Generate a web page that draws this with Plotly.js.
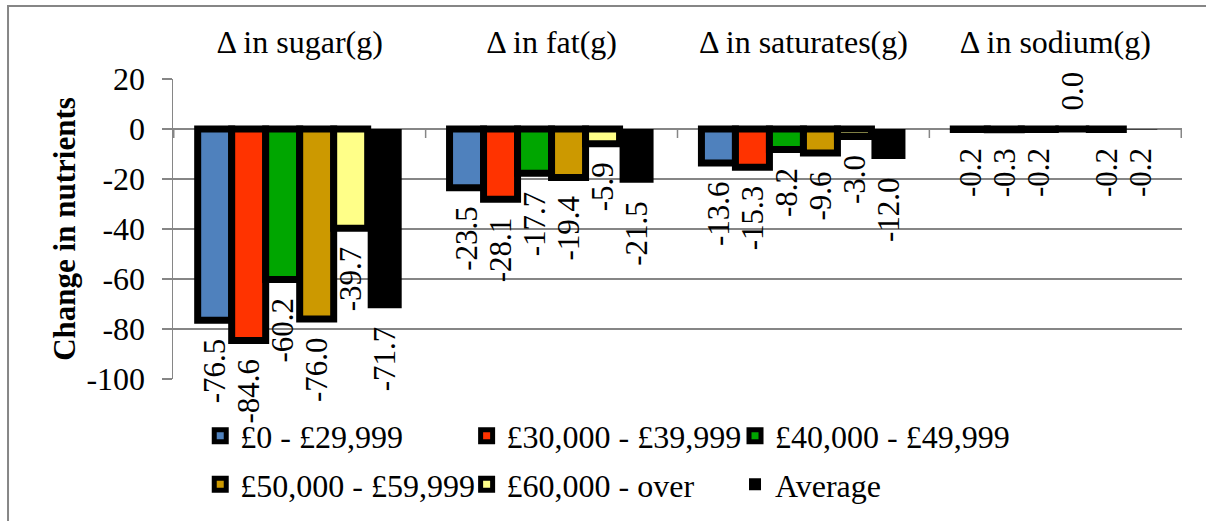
<!DOCTYPE html>
<html>
<head>
<meta charset="utf-8">
<script src="https://cdn.plot.ly/plotly-3.0.1.min.js"></script>
<style>
html,body{margin:0;padding:0;background:#fff;}
#chart{width:1206px;height:521px;}
</style>
</head>
<body>
<div id="chart"></div>
<script>
const categories = ['\u0394 in sugar(g)', '\u0394 in fat(g)', '\u0394 in saturates(g)', '\u0394 in sodium(g)'];
const seriesNames = ['£0 - £29,999', '£30,000 - £39,999', '£40,000 - £49,999', '£50,000 - £59,999', '£60,000 - over', 'Average'];
const inc0to29 = [-76.5, -23.5, -13.6, -0.2];
const inc30to39 = [-84.6, -28.1, -15.3, -0.3];
const inc40to49 = [-60.2, -17.7, -8.2, -0.2];
const inc50to59 = [-76.0, -19.4, -9.6, 0.0];
const inc60over = [-39.7, -5.9, -3.0, -0.2];
const average = [-71.7, -21.5, -12.0, -0.2];
const yTicks = [20, 0, -20, -40, -60, -80, -100];

const seriesValues = [inc0to29, inc30to39, inc40to49, inc50to59, inc60over, average];
const colors = ['#4F81BD', '#FF3300', '#00A600', '#CC9900', '#FFFF88', '#000000'];
const lineWidths = [7, 7, 7, 7, 7, 0];
const legendIds = ['legend', 'legend2', 'legend3', 'legend', 'legend2', 'legend3'];

const FONT = 'Liberation Serif, Times New Roman, serif';
const GRID = '#868686';
const PAD = '\u00a0\u00a0';

function labelText(v) {
  const s = v.toFixed(1);
  return v < 0 ? s + PAD : PAD + s;
}

const traces = seriesValues.map((vals, i) => ({
  type: 'bar',
  name: seriesNames[i],
  x: categories,
  y: vals,
  text: vals.map(labelText),
  texttemplate: '%{text}',
  textposition: 'outside',
  textangle: -90,
  constraintext: 'none',
  cliponaxis: false,
  outsidetextfont: {family: FONT, size: 31, color: '#000'},
  marker: {color: colors[i], line: {color: '#000', width: lineWidths[i]}},
  legend: legendIds[i],
  legendgroup: 'g' + i,
  hoverinfo: 'skip'
}));

const legendBase = {
  orientation: 'v',
  yanchor: 'top',
  xanchor: 'left',
  y: -0.098,
  bgcolor: 'rgba(0,0,0,0)',
  borderwidth: 0,
  tracegroupgap: 4,
  font: {family: FONT, size: 32, color: '#000'}
};

// boundary tick marks on the category axis line at y = 0
const boundaryTicks = categories.concat(['']).map((c, i) => ({
  type: 'line',
  xref: 'x', yref: 'y',
  x0: i - 0.5, x1: i - 0.5,
  ysizemode: 'pixel', yanchor: 0,
  y0: 0, y1: -9,
  line: {color: GRID, width: 1.5}
}));

const layout = {
  width: 1206,
  height: 521,
  margin: {l: 173, r: 24, t: 79, b: 142, autoexpand: false},
  paper_bgcolor: '#fff',
  plot_bgcolor: '#fff',
  barmode: 'group',
  bargap: 0.19,
  bargroupgap: 0,
  showlegend: true,
  legend: Object.assign({}, legendBase, {x: 0.027}),
  legend2: Object.assign({}, legendBase, {x: 0.291}),
  legend3: Object.assign({}, legendBase, {x: 0.557}),
  font: {family: FONT, size: 32, color: '#000'},
  xaxis: {
    type: 'category',
    side: 'top',
    showline: false,
    ticks: '',
    showticklabels: true,
    ticklabelstandoff: 19,
    tickfont: {family: FONT, size: 32, color: '#000'},
    showgrid: false,
    zeroline: false,
    fixedrange: true
  },
  yaxis: {
    range: [-100, 20],
    tickmode: 'array',
    tickvals: yTicks,
    ticktext: yTicks.map(String),
    showgrid: true,
    gridcolor: GRID,
    gridwidth: 1.5,
    showline: true,
    linecolor: GRID,
    linewidth: 1.5,
    ticks: 'outside',
    ticklen: 10,
    tickcolor: GRID,
    tickwidth: 1.5,
    ticklabelstandoff: 10,
    zeroline: true,
    zerolinecolor: GRID,
    zerolinewidth: 1.5,
    tickfont: {family: FONT, size: 32, color: '#000'},
    title: {
      text: '<b>Change in nutrients</b>',
      font: {family: FONT, size: 31, color: '#000'},
      standoff: 1
    }
  },
  shapes: [{
    type: 'rect',
    xref: 'paper', yref: 'paper',
    x0: -0.1635, x1: 1.08, y0: -0.6, y1: 1.243,
    line: {color: GRID, width: 2},
    fillcolor: 'rgba(0,0,0,0)',
    layer: 'below'
  }].concat(boundaryTicks)
};

Plotly.newPlot('chart', traces, layout, {staticPlot: true, displayModeBar: false});
</script>
</body>
</html>
